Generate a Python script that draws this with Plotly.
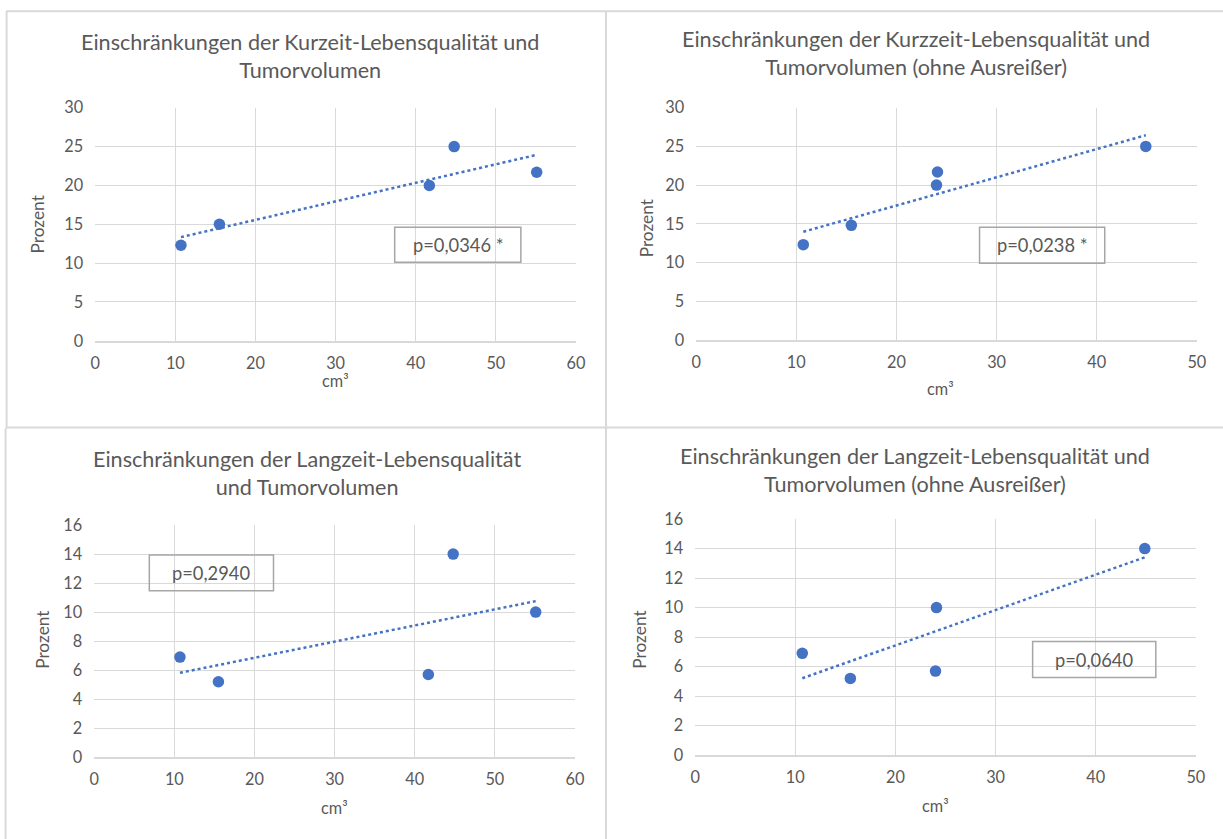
import numpy as np
import plotly.graph_objects as go

# Tumour volume (cm³) and percentage of patients reporting restrictions
vol_all = [10.7, 15.5, 41.7, 44.8, 55.1]
vol_clean = [10.7, 15.5, 24.1, 24.0, 44.9]

short_all = [12.3, 15.0, 20.0, 25.0, 21.7]
short_clean = [12.3, 14.8, 21.7, 20.0, 25.0]
long_all = [6.9, 5.2, 5.7, 14.0, 10.0]
long_clean = [6.9, 5.2, 10.0, 5.7, 14.0]

titles = [
    "Einschränkungen der Kurzeit-Lebensqualität und<br>Tumorvolumen",
    "Einschränkungen der Kurzzeit-Lebensqualität und<br>Tumorvolumen (ohne Ausreißer)",
    "Einschränkungen der Langzeit-Lebensqualität<br>und Tumorvolumen",
    "Einschränkungen der Langzeit-Lebensqualität und<br>Tumorvolumen (ohne Ausreißer)",
]
p_labels = ["p=0,0346 *", "p=0,0238 *", "p=0,2940", "p=0,0640"]
x_max = [60, 50, 60, 50]
y_max = [30, 30, 16, 16]
y_step = [5, 5, 2, 2]

W, H = 1223, 839
# page layout: 8px body margin around the figure, full page 1239 x 855
OFF = 8
SX, SY = (W + 2 * OFF) / W, (H + 2 * OFF) / H
BLUE = "#4472C4"
GREY = "#595959"
GRID = "#d9d9d9"
FONT = "Lato"


def px(x):
    return (x * SX - OFF) / W


def py(y):
    return 1 - (y * SY - OFF) / H


# plot-area rectangles in screen pixels: left, right, top, bottom
areas = [(98, 578, 106, 340), (698, 1198, 106, 339),
         (97, 577, 525, 758), (697, 1197, 519, 756)]
title_pos = [(312, 54), (918, 51), (309, 473), (917, 470)]
ytitle_pos = [(40, 223), (648, 227), (45, 640), (642, 640)]
xtitle_pos = [(338, 380), (942, 388), (337, 809), (937, 807)]
boxes = [(397, 226, 523, 261), (981, 226, 1106, 262),
         (152, 555, 276, 591), (1034, 642, 1157, 678)]

series = [(vol_all, short_all), (vol_clean, short_clean),
          (vol_all, long_all), (vol_clean, long_clean)]

fig = go.Figure()
annotations = []
shapes = []


def label(text, x, y, size, angle=0):
    return dict(text=text, x=px(x), y=py(y), xref="paper", yref="paper",
                xanchor="center", yanchor="middle", showarrow=False,
                align="center", textangle=angle,
                font=dict(family=FONT, size=size, color=GREY))


for i, (xs, ys) in enumerate(series):
    n = "" if i == 0 else str(i + 1)
    xa, ya = "x" + n, "y" + n
    fig.add_trace(go.Scatter(
        x=xs, y=ys, mode="markers", xaxis=xa, yaxis=ya,
        marker=dict(color=BLUE, size=11.5), showlegend=False,
        hoverinfo="x+y"))
    # linear trend line over the data range
    k, d = np.polyfit(xs, ys, 1)
    tx = np.array([min(xs), max(xs)])
    fig.add_trace(go.Scatter(
        x=tx, y=k * tx + d, mode="lines", xaxis=xa, yaxis=ya,
        line=dict(color=BLUE, width=2.5, dash="dot"),
        showlegend=False, hoverinfo="skip"))

    l, r, t, b = areas[i]
    fig.layout["xaxis" + n] = dict(
        domain=[px(l), px(r)], range=[0, x_max[i]], anchor=ya,
        dtick=10, tick0=0, showgrid=True, gridcolor=GRID, gridwidth=1,
        zeroline=False, showline=True, linecolor=GRID, linewidth=1.5,
        ticks="", ticklabelstandoff=7,
        tickfont=dict(family=FONT, size=16.3, color=GREY), fixedrange=True)
    fig.layout["yaxis" + n] = dict(
        domain=[py(b), py(t)], range=[0, y_max[i]], anchor=xa,
        dtick=y_step[i], tick0=0, showgrid=True, gridcolor=GRID, gridwidth=1,
        zeroline=False, showline=False, ticks="", ticklabelstandoff=11,
        tickfont=dict(family=FONT, size=16.3, color=GREY), fixedrange=True)

    annotations.append(label(titles[i], *title_pos[i], 21.6))
    annotations.append(label("Prozent", *ytitle_pos[i], 17.3, -90))
    annotations.append(label("cm³", *xtitle_pos[i], 16.3))

    bx0, by0, bx1, by1 = boxes[i]
    shapes.append(dict(type="rect", xref="paper", yref="paper",
                       x0=px(bx0), x1=px(bx1), y0=py(by1), y1=py(by0),
                       line=dict(color="#a6a6a6", width=1.5),
                       fillcolor="rgba(0,0,0,0)"))
    annotations.append(label(p_labels[i], (bx0 + bx1) / 2,
                             (by0 + by1) / 2, 18.3))

# chart frames
frame = [((9, 9), (1240, 9)), ((9.5, 9), (9.5, 428)), ((8.5, 428), (8.5, 860)),
         ((608, 9), (608, 860)), ((9, 427), (1240, 427))]
for (x0, y0), (x1, y1) in frame:
    shapes.append(dict(type="line", xref="paper", yref="paper",
                       x0=px(x0), y0=py(y0), x1=px(x1), y1=py(y1),
                       line=dict(color=GRID, width=2)))

fig.update_layout(
    width=W, height=H, margin=dict(l=0, r=0, t=0, b=0),
    paper_bgcolor="white", plot_bgcolor="white",
    annotations=annotations, shapes=shapes,
    font=dict(family=FONT, color=GREY))

fig.write_html("out.html", config={"displayModeBar": False})
